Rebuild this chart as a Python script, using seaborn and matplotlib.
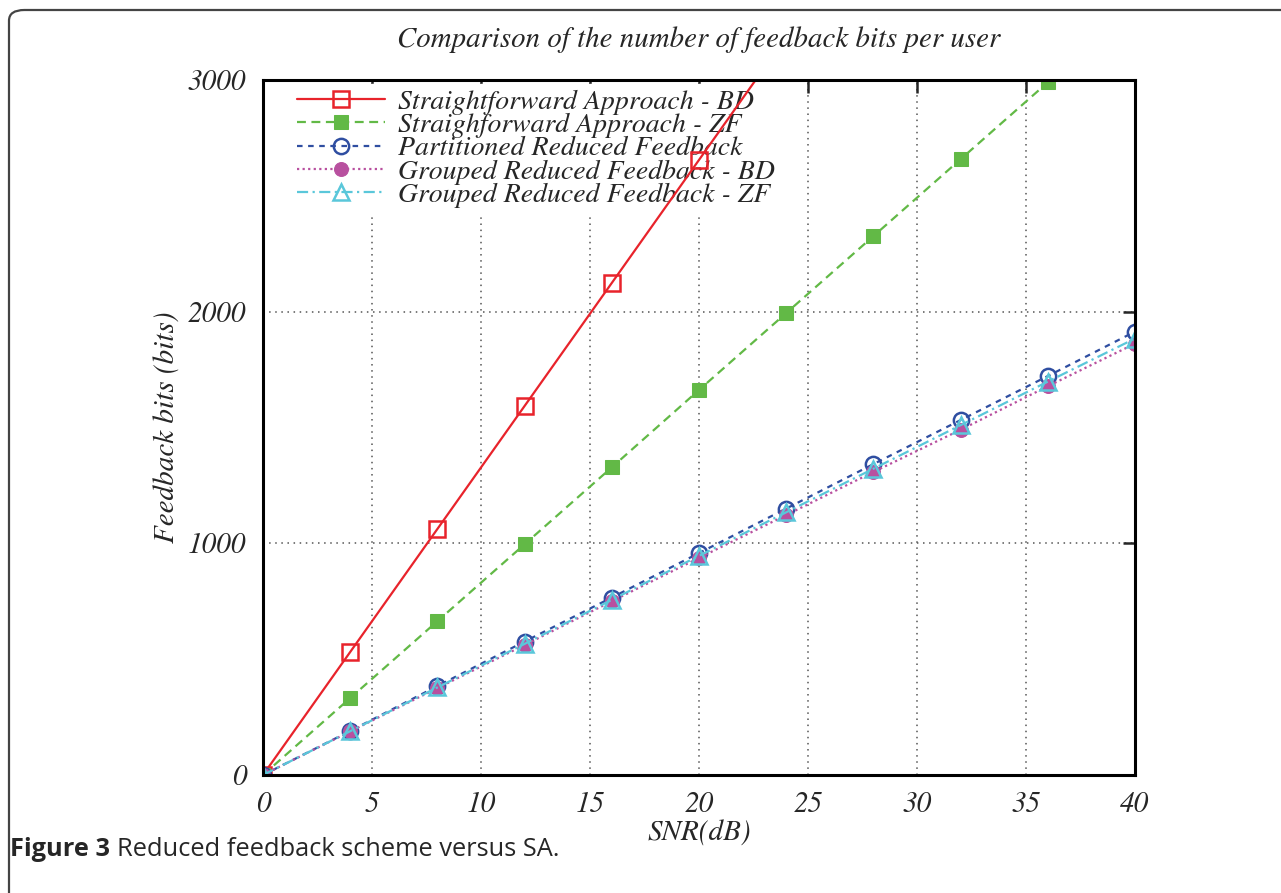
import numpy as np
import pandas as pd
import seaborn as sns
import matplotlib.pyplot as plt
from matplotlib.patches import FancyBboxPatch

snr = [0, 4, 8, 12, 16, 20, 24, 28, 32, 36, 40]

sa_bd = [0, 531, 1062, 1593, 2124, 2655, 3186]
sa_zf = [0, 332, 664, 996, 1328, 1662, 1994, 2326, 2658, 2990, 3320]
part_rf = [0, 190, 384, 576, 766, 958, 1150, 1342, 1532, 1722, 1914]
grp_bd = [0, 188, 375, 561, 750, 937, 1122, 1308, 1490, 1678, 1862]
grp_zf = [0, 189, 378, 566, 756, 946, 1134, 1322, 1510, 1698, 1884]

labels = ["Straightforward Approach - BD",
          "Straighforward Approach - ZF",
          "Partitioned Reduced Feedback",
          "Grouped Reduced Feedback - BD",
          "Grouped Reduced Feedback - ZF"]

sns.set_style("white")
plt.rcParams["font.family"] = ["STIXGeneral", "Liberation Serif", "DejaVu Serif"]

fig = plt.figure(figsize=(12.81, 8.93), dpi=100)
ax = fig.add_axes([263 / 1281, 1 - 775 / 893, (1135 - 263) / 1281, (775 - 80) / 893])

styles = [
    dict(color="#e8232b", linestyle="-", marker="s", markerfacecolor="none",
         markeredgecolor="#e8232b", markersize=11, markeredgewidth=1.8),
    dict(color="#62b946", linestyle=(0, (4, 2.5)), marker="s", markerfacecolor="#62b946",
         markeredgecolor="#62b946", markersize=10),
    dict(color="#2f4ea1", linestyle=(0, (2.5, 2.5)), marker="o", markerfacecolor="none",
         markeredgecolor="#2f4ea1", markersize=11, markeredgewidth=1.8),
    dict(color="#b8509f", linestyle=(0, (1, 1.5)), marker="o", markerfacecolor="#b8509f",
         markeredgecolor="#b8509f", markersize=10),
    dict(color="#5ac7da", linestyle=(0, (5, 2, 1, 2)), marker="^", markerfacecolor="none",
         markeredgecolor="#5ac7da", markersize=11, markeredgewidth=1.8),
]
series = [sa_bd, sa_zf, part_rf, grp_bd, grp_zf]

for vals, lab, st in zip(series, labels, styles):
    df = pd.DataFrame({"snr": snr[:len(vals)], "bits": vals})
    sns.lineplot(data=df, x="snr", y="bits", ax=ax, label=lab, linewidth=1.6, **st)

ax.set_xlim(0, 40)
ax.set_ylim(0, 3000)
ax.set_xticks(range(0, 41, 5))
ax.set_yticks([0, 1000, 2000, 3000])
ax.set_axisbelow(True)
ax.grid(True, color="#555555", linestyle=(0, (1, 3)), linewidth=1.1)
ax.tick_params(direction="in", length=9, width=1.8, top=True, right=True,
               labelsize=21, pad=12)
for lab in ax.get_xticklabels() + ax.get_yticklabels():
    lab.set_fontstyle("italic")
for sp in ax.spines.values():
    sp.set_linewidth(2.2)
    sp.set_color("black")

ax.set_xlabel("SNR(dB)", fontsize=21, fontstyle="italic", labelpad=2)
ax.set_ylabel("Feedback bits (bits)", fontsize=21, fontstyle="italic", labelpad=5)
ax.set_title("Comparison of the number of feedback bits per user",
             fontsize=20.8, fontstyle="italic", pad=24)

leg = ax.legend(loc="upper left", bbox_to_anchor=(28 / 872, 1 - 4 / 695), fontsize=20,
                frameon=True, framealpha=1, edgecolor="white", fancybox=False,
                labelspacing=-0.08, handlelength=3.2, handletextpad=0.45,
                borderpad=0.2, borderaxespad=0.0)
for t in leg.get_texts():
    t.set_fontstyle("italic")
leg.set_zorder(1.5)

border = FancyBboxPatch((9 / 1281, -0.05), 1.1, 1 - 10 / 893 + 0.05,
                        boxstyle="round,pad=0,rounding_size=0.012",
                        transform=fig.transFigure, fill=False,
                        edgecolor="#444444", linewidth=1.6)
fig.patches.append(border)

cap1 = fig.text(10 / 1281, 1 - 856 / 893, "Figure 3", fontsize=18.3, fontweight="bold",
                family=["Open Sans", "DejaVu Sans"], va="baseline")
fig.canvas.draw()
bb = cap1.get_window_extent()
fig.text((bb.x1 + 7) / 1281, 1 - 856 / 893, "Reduced feedback scheme versus SA.",
         fontsize=18.3, family=["Open Sans", "DejaVu Sans"], va="baseline")

fig.savefig("out.png", dpi=100)
